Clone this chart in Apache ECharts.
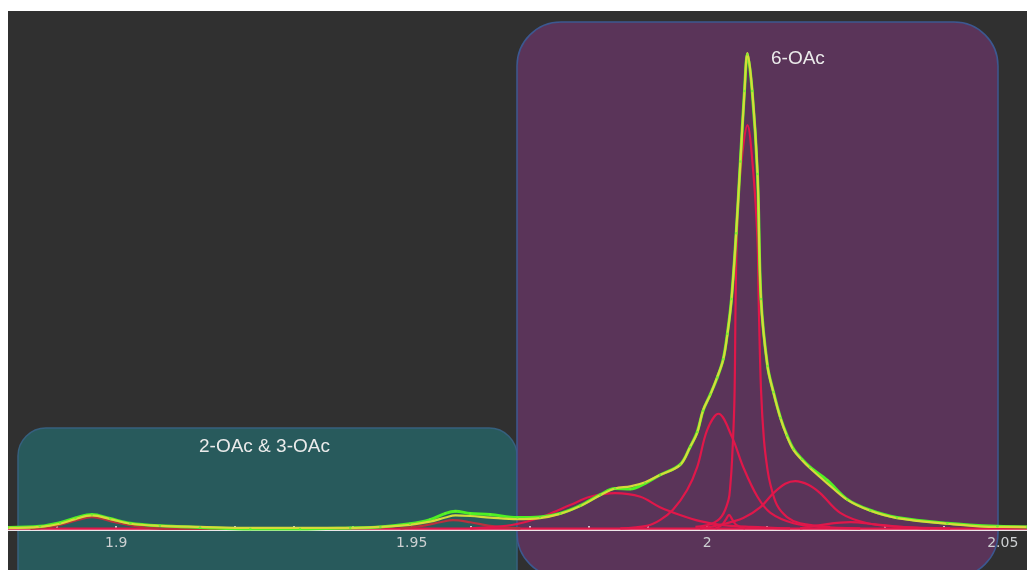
<!DOCTYPE html>
<html>
<head>
<meta charset="utf-8">
<script src="https://cdn.jsdelivr.net/npm/echarts@6/dist/echarts.min.js"></script>
<style>
  html, body { margin: 0; padding: 0; background: #ffffff; width: 1027px; height: 570px; overflow: hidden; }
  #chart { position: absolute; left: 8px; top: 11px; width: 1019px; height: 559px; }
</style>
</head>
<body>
<div id="chart"></div>
<script>
// ---- axis ticks / labels (ppm) ----
var tickValues = [1.89, 1.90, 1.91, 1.92, 1.93, 1.94, 1.95, 1.96, 1.97, 1.98, 1.99, 2.00, 2.01, 2.02, 2.03, 2.04, 2.05];
var labelValues = [1.9, 1.95, 2, 2.05];

// ---- experimental spectrum (green) ----
var expPpm = [1.8817, 1.8871, 1.8905, 1.8931, 1.8959, 1.8990, 1.9024, 1.9074, 1.9142, 1.9227, 1.9311, 1.9396, 1.9447, 1.9497, 1.9531, 1.9557, 1.9574, 1.9599, 1.9633, 1.9679, 1.9717, 1.9751, 1.9785, 1.9819, 1.9844, 1.9870, 1.9895, 1.9920, 1.9954, 1.9971, 1.9983, 1.9993, 2.0005, 2.0017, 2.0027, 2.0034, 2.0041, 2.0049, 2.0056, 2.0063, 2.0068, 2.0076, 2.0085, 2.0091, 2.0102, 2.0112, 2.0124, 2.0135, 2.0146, 2.0160, 2.0174, 2.0203, 2.0237, 2.0276, 2.0321, 2.0406, 2.0491, 2.0541];
var expInt = [0.5, 0.7, 1.4, 2.3, 3.0, 2.2, 1.3, 0.8, 0.5, 0.2, 0.2, 0.4, 0.6, 1.2, 2.0, 3.2, 3.6, 3.2, 3.0, 2.4, 2.5, 3.2, 4.7, 6.8, 8.0, 7.9, 9.0, 10.6, 12.6, 16.0, 18.9, 23.0, 26.1, 29.4, 32.9, 37.8, 44.5, 57.2, 71.0, 84.6, 91.6, 84.6, 68.6, 44.5, 31.6, 26.6, 21.6, 18.2, 15.6, 13.7, 12.1, 9.6, 5.9, 3.8, 2.4, 1.3, 0.7, 0.6];

// ---- total fit (yellow) ----
var fitPpm = [1.8817, 1.8871, 1.8905, 1.8931, 1.8959, 1.8990, 1.9024, 1.9074, 1.9142, 1.9227, 1.9311, 1.9396, 1.9447, 1.9497, 1.9531, 1.9557, 1.9574, 1.9599, 1.9633, 1.9679, 1.9717, 1.9751, 1.9785, 1.9819, 1.9844, 1.9870, 1.9895, 1.9920, 1.9954, 1.9971, 1.9983, 1.9993, 2.0005, 2.0017, 2.0027, 2.0034, 2.0041, 2.0049, 2.0056, 2.0063, 2.0068, 2.0076, 2.0085, 2.0091, 2.0102, 2.0112, 2.0124, 2.0135, 2.0146, 2.0160, 2.0174, 2.0203, 2.0237, 2.0276, 2.0321, 2.0406, 2.0491, 2.0541];
var fitInt = [0.4, 0.6, 1.2, 2.1, 2.8, 2.1, 1.2, 0.8, 0.6, 0.4, 0.4, 0.4, 0.6, 1.0, 1.6, 2.4, 2.8, 2.7, 2.4, 2.1, 2.3, 3.1, 4.6, 6.7, 8.0, 8.4, 9.2, 10.6, 12.5, 16.0, 18.7, 23.1, 26.0, 29.5, 32.8, 37.6, 44.3, 57.4, 70.9, 84.4, 91.9, 84.8, 68.8, 44.3, 31.5, 26.5, 21.5, 18.0, 15.4, 13.5, 11.9, 9.0, 5.8, 3.7, 2.3, 1.2, 0.6, 0.6];

// ---- deconvolution components (red) ----
var baselinePpm = [1.8817, 2.0541];
var baselineInt = [0.25, 0.25];

var compAPpm = [1.8855, 1.8888, 1.8922, 1.8959, 1.8998, 1.9041, 1.9091, 1.9227];
var compAInt = [0.2, 0.6, 1.5, 2.5, 1.5, 0.6, 0.2, 0.2];

var compBPpm = [1.9481, 1.9523, 1.9548, 1.9570, 1.9599, 1.9633, 1.9684];
var compBInt = [0.3, 0.9, 1.5, 1.9, 1.5, 0.8, 0.3];

var compCPpm = [1.9599, 1.9650, 1.9684, 1.9729, 1.9768, 1.9802, 1.9844, 1.9887, 1.9920, 1.9954, 1.9988, 2.0022, 2.0073, 2.0140];
var compCInt = [0.3, 0.7, 1.3, 2.9, 4.8, 6.4, 7.1, 6.4, 4.4, 2.9, 1.7, 1.0, 0.6, 0.3];

var compDPpm = [1.9853, 1.9898, 1.9920, 1.9942, 1.9966, 1.9983, 2.0000, 2.0019, 2.0042, 2.0061, 2.0085, 2.0107, 2.0146, 2.0191, 2.0259];
var compDInt = [0.3, 0.8, 1.9, 3.9, 7.7, 12.1, 19.3, 22.4, 17.9, 12.1, 6.4, 3.3, 1.3, 0.6, 0.3];

var compEPpm = [1.9980, 2.0008, 2.0025, 2.0036, 2.0039, 2.0042, 2.0046, 2.0048, 2.0050, 2.0056, 2.0068, 2.0078, 2.0085, 2.0087, 2.0091, 2.0096, 2.0102, 2.0107, 2.0118, 2.0135, 2.0157, 2.0208];
var compEInt = [0.6, 1.2, 2.7, 5.8, 8.5, 13.5, 25.0, 44.3, 55.9, 68.8, 78.0, 68.8, 55.9, 44.3, 27.0, 17.3, 11.6, 8.7, 4.8, 2.5, 1.3, 0.6];

var compFPpm = [2.0014, 2.0025, 2.0032, 2.0037, 2.0042, 2.0049, 2.0064];
var compFInt = [0.3, 1.0, 2.1, 2.9, 2.1, 1.0, 0.3];

var compGPpm = [1.9988, 2.0022, 2.0061, 2.0090, 2.0112, 2.0132, 2.0149, 2.0171, 2.0191, 2.0225, 2.0271, 2.0327, 2.0411];
var compGInt = [0.3, 1.0, 2.3, 4.4, 7.1, 8.9, 9.4, 8.7, 7.1, 3.3, 1.3, 0.6, 0.3];

var compHPpm = [2.0157, 2.0200, 2.0242, 2.0284, 2.0327, 2.0377];
var compHInt = [0.3, 1.1, 1.5, 1.1, 0.6, 0.3];

// ---- region annotations ----
var regionLabels = ['2-OAc & 3-OAc', '6-OAc'];

function pairs(xs, ys) {
  var out = [];
  for (var i = 0; i < xs.length; i++) out.push([xs[i], ys[i]]);
  return out;
}

var RED = '#e0174a';
var DARKRED = '#b8303e';

function redSeries(xs, ys, color) {
  return {
    type: 'line', data: pairs(xs, ys), smooth: 0.35, showSymbol: false, z: 3,
    lineStyle: { color: color || RED, width: 2.2 }, silent: true
  };
}

var chart = echarts.init(document.getElementById('chart'), null, { renderer: 'canvas' });

var option = {
  animation: false,
  backgroundColor: '#303030',
  grid: { left: 0, right: 0, top: 0, bottom: 40, containLabel: false, outerBoundsMode: 'none' },
  xAxis: {
    type: 'value', min: 1.8817, max: 2.0541,
    axisLine: { show: true, onZero: false, lineStyle: { color: '#ece6ea', width: 2 } },
    axisTick: { show: true, inside: true, length: 4, customValues: tickValues, lineStyle: { color: '#f2f2f2', width: 1.5 } },
    axisLabel: {
      customValues: labelValues, color: '#cdd0d2', fontSize: 14, fontFamily: 'DejaVu Sans', margin: 6,
      formatter: function (v) { return String(v); }
    },
    splitLine: { show: false }
  },
  yAxis: { type: 'value', min: 0, max: 100, show: false },
  graphic: [
    { type: 'rect', z: -10, shape: { x: 10, y: 417, width: 499, height: 200, r: [28, 28, 0, 0] },
      style: { fill: '#285a5c', stroke: '#36607e', lineWidth: 1.5 } },
    { type: 'rect', z: -9, shape: { x: 509, y: 11, width: 481, height: 555, r: 44 },
      style: { fill: '#5a3459', stroke: '#3c5890', lineWidth: 1.5 } },
    { type: 'text', z: 100, x: 191, y: 436,
      style: { text: regionLabels[0], fill: '#ebebeb', fontSize: 19, fontFamily: 'Liberation Sans, Arial', verticalAlign: 'middle' } },
    { type: 'text', z: 100, x: 763, y: 48,
      style: { text: regionLabels[1], fill: '#ebebeb', fontSize: 19, fontFamily: 'Liberation Sans, Arial', verticalAlign: 'middle' } }
  ],
  series: [
    redSeries(baselinePpm, baselineInt),
    redSeries(compAPpm, compAInt, DARKRED),
    redSeries(compBPpm, compBInt, DARKRED),
    redSeries(compCPpm, compCInt),
    redSeries(compDPpm, compDInt),
    redSeries(compEPpm, compEInt),
    redSeries(compFPpm, compFInt),
    redSeries(compGPpm, compGInt),
    redSeries(compHPpm, compHInt),
    { type: 'line', data: pairs(expPpm, expInt), smooth: 0.35, showSymbol: false, z: 4, silent: true,
      lineStyle: { color: '#4ef024', width: 3 } },
    { type: 'line', data: pairs(fitPpm, fitInt), smooth: 0.35, showSymbol: false, z: 5, silent: true,
      lineStyle: { color: '#d6da3a', width: 2.2 } },
    { type: 'scatter', data: pairs(expPpm, expInt), symbolSize: 2.5, z: 6, silent: true,
      itemStyle: { color: '#66ee30' } }
  ]
};
chart.setOption(option);
</script>
</body>
</html>
